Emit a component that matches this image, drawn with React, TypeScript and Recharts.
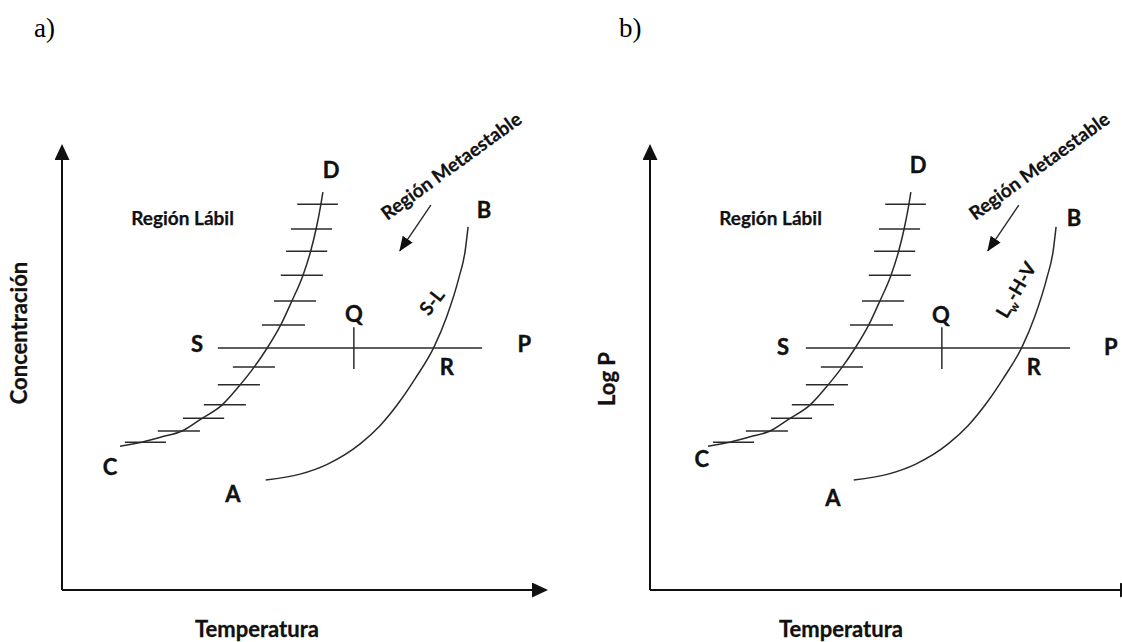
import React from 'react';
import { ComposedChart, XAxis, YAxis, Line, Scatter, ReferenceLine } from 'recharts';

// Arbitrary 0–100 scales: t = temperature, c = concentration (a) / log P (b)
const curveCD_T = [12.0, 16.5, 20.7, 24.8, 28.7, 33.1, 36.8, 39.7, 42.4, 45.2, 47.5, 49.8, 51.4, 52.5, 53.5, 53.9];
const curveCD_C = [32.4, 33.3, 34.5, 35.8, 38.5, 41.7, 46.2, 50.2, 54.5, 59.7, 65.1, 70.9, 76.4, 81.3, 86.9, 89.6];

const curveAB_T = [42.1, 49.2, 54.8, 61.6, 65.7, 69.8, 72.9, 76.9, 79.5, 82.0, 83.3, 83.9];
const curveAB_C = [24.8, 26.1, 28.3, 32.9, 37.0, 42.5, 47.5, 54.8, 61.6, 70.3, 76.4, 81.8];

// hatch marks along the C–D curve
const hatchC = [86.9, 81.3, 76.3, 70.9, 65.1, 59.7, 50.2, 46.2, 41.7, 38.7, 35.8, 33.3];
const hatchFrom = [48.6, 47.3, 46.3, 45.2, 43.8, 41.3, 35.3, 32.2, 29.3, 25.0, 19.8, 13.0];
const hatchTo = [57.0, 55.8, 54.8, 53.9, 52.5, 50.2, 44.0, 40.9, 38.0, 33.5, 28.5, 21.5];

// isotherm S–P and mark at Q
const isoC = 54.5;
const isoFrom = 32.2;
const isoTo = 86.8;
const qT = 60.3;
const qFrom = 49.8;
const qTo = 59.2;

// arrow pointing into the metastable region
const arrowT = [76.2, 69.8];
const arrowC = [86.7, 76.4];

// point letters
const letterNames = ['D', 'B', 'Q', 'S', 'P', 'R', 'C', 'A'];
const lettersA_T = [55.6, 87.2, 60.3, 27.9, 95.5, 79.5, 9.9, 35.3];
const lettersA_C = [94.6, 85.6, 62.2, 55.4, 55.4, 50.2, 27.7, 21.6];
const lettersB_T = [55.4, 87.6, 60.1, 27.5, 95.2, 79.3, 10.7, 37.8];
const lettersB_C = [95.7, 83.8, 61.9, 54.7, 54.7, 50.2, 29.5, 20.7];

// region / curve labels
const regionNames = ['Región Lábil', 'Región Metaestable'];
const regionT = [24.9, 80.4];
const regionC = [83.7, 95.5];
const curveLabelA = { name: 'S-L', t: 76.4, c: 64.9 };
const curveLabelB = { name: 'Lw-H-V', t: 75.6, c: 67.6 };

const xTitle = 'Temperatura';
const yTitleA = 'Concentración';
const yTitleB = 'Log P';

const zip = (ts: number[], cs: number[]) => ts.map((t, i) => ({ t, c: cs[i] }));
const cdData = zip(curveCD_T, curveCD_C);
const abData = zip(curveAB_T, curveAB_C);
const arrowData = zip(arrowT, arrowC);
const lettersA = letterNames.map((name, i) => ({ name, t: lettersA_T[i], c: lettersA_C[i] }));
const lettersB = letterNames.map((name, i) => ({ name, t: lettersB_T[i], c: lettersB_C[i] }));
const regions = regionNames.map((name, i) => ({ name, t: regionT[i], c: regionC[i] }));

const FONT = "Lato, 'Open Sans', sans-serif";
const INK = '#111';
const LINE = '#2a2a2a';
const LETTER_SIZE = 22;

const rotation: Record<string, number> = {
  'Región Lábil': 0,
  'Región Metaestable': -36,
  'S-L': -52,
  'Lw-H-V': -60,
};
const labelSize: Record<string, number> = {
  'Región Lábil': 19,
  'Región Metaestable': 19,
  'S-L': 19,
  'Lw-H-V': 19,
};

const LetterShape = (p: any) => (
  <text x={p.cx} y={p.cy} dy={LETTER_SIZE * 0.36} textAnchor="middle" fontFamily={FONT} fontWeight={700} fontSize={LETTER_SIZE} fill={INK}
    stroke={INK} strokeWidth={0.4}>
    {p.payload.name}
  </text>
);

const LabelShape = (p: any) => {
  const name: string = p.payload.name;
  const size = labelSize[name] || 15;
  const rot = rotation[name] || 0;
  const content =
    name === 'Lw-H-V' ? (
      <>
        L<tspan fontSize={size * 0.62} dy={size * 0.22}>w</tspan>
        <tspan dy={-size * 0.22}>-H-V</tspan>
      </>
    ) : (
      name
    );
  return (
    <text
      x={p.cx}
      y={p.cy}
      dy={size * 0.36}
      textAnchor="middle"
      fontFamily={FONT}
      fontWeight={700}
      fontSize={size}
      fill={INK}
      stroke={INK}
      strokeWidth={0.25}
      transform={rot ? `rotate(${rot} ${p.cx} ${p.cy})` : undefined}
    >
      {content}
    </text>
  );
};

const XTitle = (props: any) => {
  const vb = props.viewBox || { x: 62, y: 590, width: 484, height: 52 };
  return (
    <text x={vb.x + props.offsetX} y={vb.y + 47} textAnchor="middle" fontFamily={FONT} fontWeight={700} fontSize={22} fill={INK}
      stroke={INK} strokeWidth={0.3}>
      {props.text}
    </text>
  );
};

const YTitle = (props: any) => {
  const vb = props.viewBox || { x: 0, y: 146, width: 62, height: 444 };
  const cx = vb.x + 19;
  const cy = vb.y + props.offsetY;
  return (
    <text x={cx} y={cy} dy={22 * 0.36} textAnchor="middle" fontFamily={FONT} fontWeight={700} fontSize={22} fill={INK}
      stroke={INK} strokeWidth={0.3} transform={`rotate(-90 ${cx} ${cy})`}>
      {props.text}
    </text>
  );
};

function Panel({ letters, yTitle, yOffset, xOffset, curveLabel }: any) {
  return (
    <ComposedChart width={561} height={642} margin={{ top: 146, right: 15, bottom: 0, left: 0 }}>
      <XAxis
        type="number"
        dataKey="t"
        domain={[0, 100]}
        ticks={[]}
        tick={false}
        tickLine={false}
        height={52}
        axisLine={{ stroke: '#111', strokeWidth: 2, markerEnd: 'url(#axisHead)' }}
        label={(p: any) => <XTitle {...p} text={xTitle} offsetX={xOffset} />}
      />
      <YAxis
        type="number"
        dataKey="c"
        domain={[0, 100]}
        ticks={[]}
        tick={false}
        tickLine={false}
        width={62}
        axisLine={{ stroke: '#111', strokeWidth: 2, markerStart: 'url(#axisHeadStart)' }}
        label={(p: any) => <YTitle {...p} text={yTitle} offsetY={yOffset} />}
      />
      {hatchC.map((c, i) => (
        <ReferenceLine
          key={'h' + i}
          segment={[{ x: hatchFrom[i], y: c }, { x: hatchTo[i], y: c }]}
          stroke={LINE}
          strokeWidth={1.5}
        />
      ))}
      <ReferenceLine segment={[{ x: isoFrom, y: isoC }, { x: isoTo, y: isoC }]} stroke={LINE} strokeWidth={1.5} />
      <ReferenceLine segment={[{ x: qT, y: qFrom }, { x: qT, y: qTo }]} stroke={LINE} strokeWidth={1.5} />
      <ReferenceLine
        segment={[{ x: arrowData[0].t, y: arrowData[0].c }, { x: arrowData[1].t, y: arrowData[1].c }]}
        stroke={LINE}
        strokeWidth={1.4}
        markerEnd="url(#smallHead)"
      />
      <Line data={cdData} dataKey="c" type="monotone" stroke={LINE} strokeWidth={1.5} dot={false} isAnimationActive={false} />
      <Line data={abData} dataKey="c" type="monotone" stroke={LINE} strokeWidth={1.5} dot={false} isAnimationActive={false} />
      <Scatter data={letters} shape={LetterShape} isAnimationActive={false} />
      <Scatter data={[...regions, curveLabel]} shape={LabelShape} isAnimationActive={false} />
    </ComposedChart>
  );
}

export default function App() {
  return (
    <div style={{ position: 'absolute', left: 0, top: 0, width: 1122, height: 642, overflow: 'hidden', background: '#fff' }}>
      <svg width={1122} height={642} style={{ position: 'absolute', left: 0, top: 0 }}>
        <defs>
          <marker id="axisHead" viewBox="0 0 16 15" markerUnits="userSpaceOnUse" markerWidth={16} markerHeight={15} refX={14} refY={7.5} orient="auto">
            <path d="M0,0 L16,7.5 L0,15 Z" fill="#111" />
          </marker>
          <marker id="axisHeadStart" viewBox="0 0 16 15" markerUnits="userSpaceOnUse" markerWidth={16} markerHeight={15} refX={14} refY={7.5} orient="auto-start-reverse">
            <path d="M0,0 L16,7.5 L0,15 Z" fill="#111" />
          </marker>
          <marker id="smallHead" viewBox="0 0 15 12" markerUnits="userSpaceOnUse" markerWidth={15} markerHeight={12} refX={14} refY={6} orient="auto">
            <path d="M0,0 L15,6 L0,12 Z" fill="#111" />
          </marker>
        </defs>
        <text x={34} y={37} fontFamily="'Liberation Serif', 'Times New Roman', serif" fontSize={27} fill="#000">a)</text>
        <text x={619} y={37} fontFamily="'Liberation Serif', 'Times New Roman', serif" fontSize={27} fill="#000">b)</text>
      </svg>
      <div style={{ position: 'absolute', left: 0, top: 0 }}>
        <Panel letters={lettersA} yTitle={yTitleA} yOffset={187} xOffset={195} curveLabel={curveLabelA} />
      </div>
      <div style={{ position: 'absolute', left: 588, top: 0 }}>
        <Panel letters={lettersB} yTitle={yTitleB} yOffset={233} xOffset={191} curveLabel={curveLabelB} />
      </div>
    </div>
  );
}
